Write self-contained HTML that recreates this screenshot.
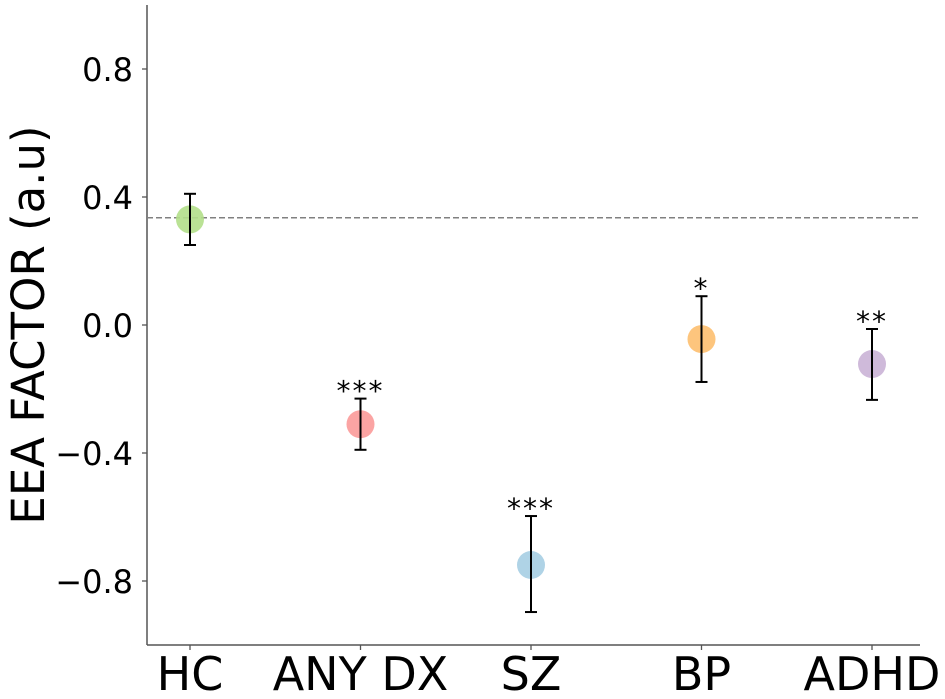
<!DOCTYPE html>
<html><head><meta charset="utf-8"><style>
html,body{margin:0;padding:0;background:#fff;}
svg{display:block;font-family:"DejaVu Sans","Liberation Sans",sans-serif;}
</style></head><body>
<svg id="chart" width="945" height="699" viewBox="0 0 945 699"></svg>
<script>
const categories = ["HC","ANY DX","SZ","BP","ADHD"];
const means = [0.33, -0.31, -0.75, -0.044, -0.122];
const errUpper = [0.41, -0.23, -0.597, 0.09, -0.0125];
const errLower = [0.25, -0.39, -0.897, -0.178, -0.234];
const stars = ["", "***", "***", "*", "**"];
const colors = ["#b2df8a","#fb9a99","#a6cee3","#fdbf6f","#cab2d6"];
const yTicks = [0.8, 0.4, 0.0, -0.4, -0.8];
const yTickLabels = ["0.8","0.4","0.0","\u22120.4","\u22120.8"];
const refLine = 0.335;

const NS = "http://www.w3.org/2000/svg";
const svgEl = document.getElementById("chart");
const plotLeft = 147, plotRight = 920, plotTop = 5, plotBottom = 645;
const yMin = -1.0, yMax = 1.0;
function yPos(v){ return plotBottom - (v - yMin) / (yMax - yMin) * (plotBottom - plotTop); }
function xPos(i){ return 190 + i * 170.5; }
function mk(tag, attrs, text){
  const e = document.createElementNS(NS, tag);
  for (const k in attrs) e.setAttribute(k, attrs[k]);
  if (text !== undefined) e.textContent = text;
  svgEl.appendChild(e);
  return e;
}

let ax = mk("line",{x1:plotLeft,y1:plotTop,x2:plotLeft,y2:plotBottom,stroke:"#555","stroke-width":1.5});


ax = mk("line",{x1:plotLeft,y1:plotBottom,x2:plotRight,y2:plotBottom,stroke:"#555","stroke-width":1.5});



yTicks.forEach((t,i)=>{
  const tk = mk("line",{x1:plotLeft-5,y1:yPos(t),x2:plotLeft,y2:yPos(t),stroke:"#555","stroke-width":1.3});
  
  
  const lb = mk("text",{x:plotLeft-14,y:yPos(t)+12,"text-anchor":"end","font-size":32},yTickLabels[i]);
  
  
});

categories.forEach((c,i)=>{
  const tk = mk("line",{x1:xPos(i),y1:plotBottom,x2:xPos(i),y2:plotBottom+5,stroke:"#555","stroke-width":1.3});
  
  
  const lb = mk("text",{x:xPos(i),y:690,"text-anchor":"middle","font-size":46},c);
  
  
});

const ttl = mk("text",{x:0,y:0,"text-anchor":"middle","font-size":45,transform:"translate(44,325) rotate(-90)"},"EEA FACTOR (a.u)");



const rl = mk("line",{x1:plotLeft,y1:yPos(refLine),x2:plotRight,y2:yPos(refLine),stroke:"#808080","stroke-width":1.5,"stroke-dasharray":"6,3"});



categories.forEach((c,i)=>{
  const cx = xPos(i);
  const m = mk("circle",{cx:cx,cy:yPos(means[i]),r:14,fill:colors[i],"fill-opacity":0.9});
  
  
  const el = mk("line",{x1:cx,y1:yPos(errUpper[i]),x2:cx,y2:yPos(errLower[i]),stroke:"#000","stroke-width":2});
  
  
  [errUpper[i],errLower[i]].forEach(v=>{
    const cap = mk("line",{x1:cx-6,y1:yPos(v),x2:cx+6,y2:yPos(v),stroke:"#000","stroke-width":2});
    
    
  });
  if (stars[i]) {
    const s = mk("text",{x:cx,y:yPos(errUpper[i])+2,"text-anchor":"middle","font-size":28,"letter-spacing":2},stars[i]);
    
    
  }
});
</script>
</body></html>
